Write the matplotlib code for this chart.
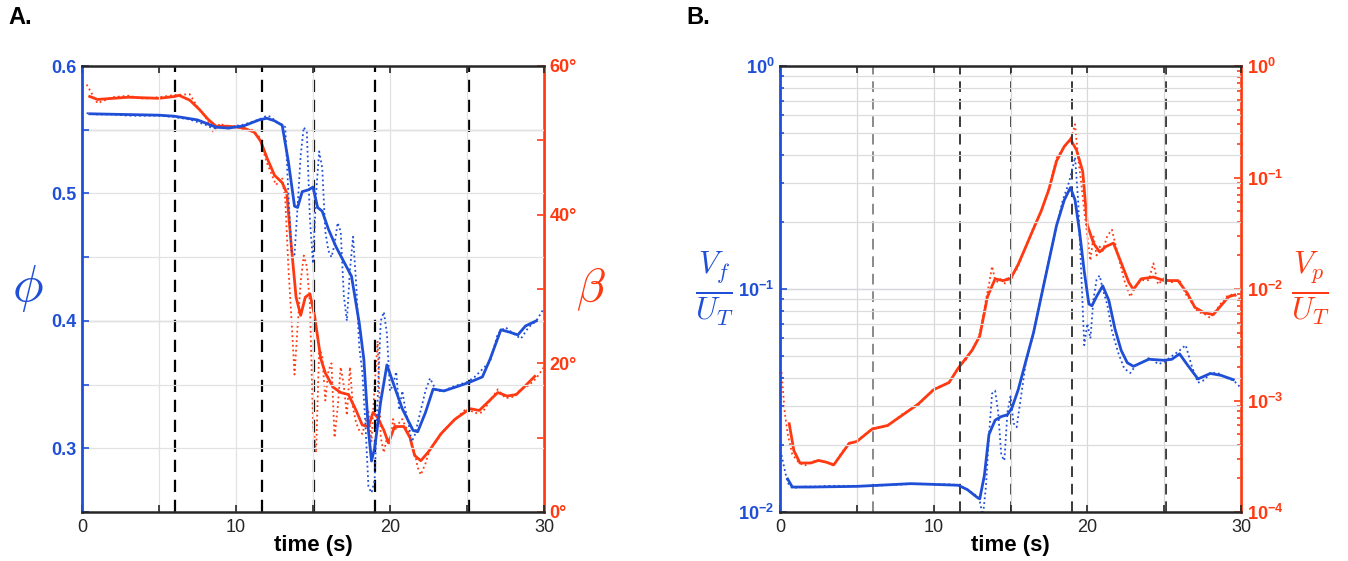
import matplotlib
matplotlib.use("Agg")
import matplotlib.pyplot as plt
import numpy as np

plt.rcParams['font.family'] = ['Liberation Sans', 'DejaVu Sans']
plt.rcParams['mathtext.fontset'] = 'custom'
plt.rcParams['mathtext.rm'] = 'Liberation Sans:bold'
plt.rcParams['mathtext.it'] = 'Liberation Sans:italic'
plt.rcParams['mathtext.bf'] = 'Liberation Sans:bold'

BLUE = '#1f4fd6'
RED = '#ff3a12'

# event times (dashed lines)
events = [6.05, 11.7, 15.05, 19.0, 25.1]

# ---------------- panel A: smoothed curves ----------------
t_phi = [0.5, 5, 6, 7.5, 8.7, 9.5, 10.5, 11.5, 12, 12.5, 13, 13.4, 13.8, 14.0, 14.3, 14.7,
         15, 15.3, 15.6, 16.0, 16.5, 17, 17.5, 18, 18.3, 18.6, 18.8, 19.0, 19.4, 19.8,
         20.3, 20.8, 21.5, 21.8, 22.3, 22.8, 23.5, 24.5, 25.2, 26, 26.5, 27.2, 27.8, 28.3,
         28.8, 29.5]
phi = [0.5625, 0.5614, 0.5606, 0.5577, 0.552, 0.5513, 0.553, 0.5577, 0.559, 0.557, 0.5535,
       0.525, 0.49, 0.489, 0.5014, 0.5028, 0.505, 0.489, 0.486, 0.472, 0.458, 0.4465, 0.435,
       0.3986, 0.370, 0.314, 0.290, 0.300, 0.337, 0.3654, 0.348, 0.331, 0.314, 0.313, 0.328,
       0.3465, 0.345, 0.349, 0.352, 0.356, 0.370, 0.393, 0.391, 0.389, 0.396, 0.400]

t_beta = [0.5, 1, 3, 5, 6, 6.3, 7, 7.6, 8.2, 8.7, 9.5, 10.5, 11.2, 11.6, 12.0, 12.5, 13,
          13.3, 13.6, 13.9, 14.2, 14.5, 14.8, 15.1, 15.5, 15.8, 16.3, 16.8, 17.3, 17.8, 18.2,
          18.6, 18.9, 19.2, 19.6, 19.9, 20.3, 20.9, 21.3, 21.6, 22.0, 22.5, 23.3, 24.2, 25.2,
          25.8, 26.4, 27, 27.6, 28.2, 28.8, 29.4]
beta = [55.9, 55.5, 55.8, 55.65, 55.9, 56.05, 55.4, 54.2, 52.8, 51.9, 51.9, 51.65, 51.07,
        49.9, 47.7, 45.3, 44.3, 42.9, 35.6, 28.9, 26.45, 28.9, 29.35, 26.45, 20.66, 18.7,
        16.8, 16.07, 15.8, 13.66, 11.7, 11.5, 13.4, 12.7, 11.0, 9.3, 11.5, 11.5, 10.0, 7.6,
        6.9, 8.1, 10.5, 12.45, 13.9, 13.66, 14.87, 16.07, 15.6, 15.8, 17.0, 18.25]

# ---------------- panel A: raw (dotted) ----------------
t_raw_a = [0.3, 1, 2, 3, 4, 5, 6, 7, 7.5, 8, 8.5, 9, 9.5, 10, 10.5, 11, 11.5, 12, 12.3, 12.6,
           13.0, 13.2, 13.4, 13.6, 13.8, 14.0, 14.2, 14.4, 14.6, 14.8, 15.0, 15.2, 15.4, 15.6,
           15.8, 16.0, 16.2, 16.4, 16.6, 16.8, 17.0, 17.2, 17.4, 17.6, 17.8, 18.0, 18.2, 18.4,
           18.6, 18.8, 19.0, 19.2, 19.4, 19.6, 19.8, 20.0, 20.2, 20.4, 20.6, 20.8, 21.0, 21.2,
           21.4, 21.6, 21.8, 22.0, 22.3, 22.6, 23.0, 23.5, 24, 24.5, 25, 25.5, 26, 26.5, 27,
           27.5, 28, 28.5, 29, 29.5, 30]
phi_raw = [0.563, 0.562, 0.562, 0.561, 0.561, 0.561, 0.560, 0.558, 0.556, 0.554, 0.551, 0.552,
           0.551, 0.553, 0.554, 0.556, 0.558, 0.561, 0.560, 0.556, 0.554, 0.552, 0.50, 0.455,
           0.452, 0.49, 0.53, 0.552, 0.548, 0.48, 0.445, 0.50, 0.533, 0.52, 0.47, 0.455, 0.45,
           0.46, 0.477, 0.47, 0.42, 0.40, 0.44, 0.466, 0.43, 0.38, 0.36, 0.32, 0.27, 0.265,
           0.275, 0.34, 0.40, 0.407, 0.39, 0.345, 0.35, 0.36, 0.33, 0.345, 0.33, 0.32, 0.305,
           0.31, 0.32, 0.33, 0.345, 0.355, 0.345, 0.345, 0.348, 0.35, 0.352, 0.356, 0.362,
           0.368, 0.39, 0.395, 0.39, 0.386, 0.395, 0.40, 0.41]
beta_raw = [57.5, 55.0, 55.8, 56.0, 55.6, 55.8, 56.1, 56.2, 54.5, 53.2, 51.2, 52.3, 51.5, 52.0,
            51.4, 51.5, 50.5, 47.0, 45.5, 44.0, 45.0, 42.0, 33, 26, 18.5, 25, 31, 34.5, 33, 28,
            12, 8, 22, 21, 15, 19, 20, 10, 14, 19.5, 17, 13, 19.5, 14, 12, 11, 10.5, 12, 13.5,
            9.5, 17, 23, 10, 8, 10, 9, 12.5, 11, 12, 12.5, 11.5, 11, 9, 8, 6, 5, 6.5, 8.5, 9.5,
            11, 12, 13, 14, 13.3, 13.4, 15, 16.5, 15.3, 15.5, 16.5, 17, 18, 19.5]

# ---------------- panel B: smoothed curves ----------------
t_vf = [0.5, 0.8, 2, 5, 8.5, 10, 11.6, 12.2, 12.8, 13.0, 13.3, 13.6, 14.0, 14.4, 14.8, 15.1,
        15.5, 16, 16.5, 17, 17.5, 18, 18.5, 18.9, 19.2, 19.5, 19.8, 20.1, 20.3, 20.6, 21,
        21.4, 21.8, 22.2, 22.6, 23.0, 24, 25, 25.5, 26, 26.5, 27.2, 28, 28.7, 29.5]
vf = [0.01406, 0.01294, 0.01294, 0.01303, 0.01340, 0.01330, 0.01318, 0.01259, 0.01167,
      0.01146, 0.01459, 0.02228, 0.02582, 0.02679, 0.02729, 0.02938, 0.03532, 0.04753,
      0.06383, 0.09247, 0.1337, 0.1932, 0.2506, 0.2851, 0.2506, 0.1795, 0.1197, 0.0857,
      0.0841, 0.0925, 0.1033, 0.0889, 0.0662, 0.0531, 0.0467, 0.0450, 0.0484, 0.0479,
      0.0484, 0.0512, 0.0458, 0.0395, 0.0418, 0.0410, 0.0392]

t_vp = [0.6, 0.9, 1.3, 2, 2.5, 3, 3.5, 4.0, 4.5, 5, 6, 7, 8, 9, 10, 11, 11.6, 12.5, 13, 13.5,
        14, 14.5, 15, 15.5, 16, 16.5, 17, 17.5, 18, 18.5, 18.9, 19.3, 19.7, 20.0, 20.4, 20.8,
        21.2, 21.7, 22.2, 22.7, 23.0, 23.5, 24.3, 25, 25.9, 26.5, 27, 27.6, 28.2, 28.7, 29.2,
        29.6]
vp = [6.19e-4, 3.56e-4, 2.75e-4, 2.75e-4, 2.90e-4, 2.80e-4, 2.65e-4, 3.31e-4, 4.13e-4,
      4.29e-4, 5.55e-4, 5.97e-4, 7.45e-4, 9.31e-4, 1.25e-3, 1.45e-3, 1.95e-3, 2.82e-3,
      3.78e-3, 8.53e-3, 1.233e-2, 1.19e-2, 1.233e-2, 1.66e-2, 2.40e-2, 3.48e-2, 5.02e-2,
      7.82e-2, 0.141, 0.190, 0.220, 0.176, 0.113, 0.0374, 0.0258, 0.0215, 0.0240, 0.0258,
      0.0172, 0.01146, 0.00989, 0.01233, 0.0128, 0.0119, 0.0119, 0.00918, 0.00684, 0.00612,
      0.00590, 0.00710, 0.00853, 0.00885]

# ---------------- panel B: raw (dotted) ----------------
t_raw_b = [0.1, 0.3, 0.5, 0.8, 1.2, 1.6, 2, 2.5, 3, 3.5, 4, 4.5, 5, 6, 7, 8, 9, 10, 11, 11.6,
           12.2, 12.8, 13.0, 13.2, 13.4, 13.6, 13.8, 14.0, 14.2, 14.4, 14.6, 14.8, 15.0, 15.2,
           15.4, 15.6, 16, 16.5, 17, 17.5, 18, 18.4, 18.8, 19.0, 19.2, 19.4, 19.6, 19.8, 20.0,
           20.2, 20.4, 20.6, 20.8, 21.0, 21.3, 21.6, 22.0, 22.4, 22.8, 23.2, 23.6, 24.0, 24.3,
           24.6, 25, 25.5, 26, 26.4, 26.8, 27.2, 27.6, 28, 28.5, 29, 29.5, 30]
vf_raw = [0.018, 0.0155, 0.0135, 0.0128, 0.0129, 0.0130, 0.0130, 0.0130, 0.0131, 0.0131,
          0.0131, 0.0131, 0.0131, 0.0131, 0.0132, 0.0133, 0.0134, 0.0133, 0.0133, 0.0132,
          0.0126, 0.0118, 0.0112, 0.0095, 0.013, 0.022, 0.034, 0.035, 0.028, 0.018, 0.017,
          0.028, 0.033, 0.025, 0.024, 0.030, 0.047, 0.063, 0.093, 0.135, 0.19, 0.25, 0.30,
          0.34, 0.39, 0.25, 0.12, 0.056, 0.070, 0.06, 0.09, 0.110, 0.115, 0.10, 0.085, 0.065,
          0.052, 0.044, 0.042, 0.046, 0.047, 0.049, 0.048, 0.046, 0.047, 0.050, 0.053, 0.056,
          0.045, 0.038, 0.039, 0.042, 0.042, 0.040, 0.039, 0.036]
vp_raw = [1.8e-3, 8e-4, 5e-4, 3.3e-4, 2.8e-4, 2.6e-4, 2.8e-4, 2.9e-4, 2.8e-4, 2.6e-4, 3.4e-4,
          4.1e-4, 4.3e-4, 5.6e-4, 5.9e-4, 7.6e-4, 9.1e-4, 1.27e-3, 1.44e-3, 1.97e-3, 2.4e-3,
          3.4e-3, 4.0e-3, 5.5e-3, 8.0e-3, 1.1e-2, 1.6e-2, 1.2e-2, 1.15e-2, 1.25e-2, 1.1e-2,
          1.3e-2, 1.15e-2, 1.4e-2, 1.5e-2, 1.75e-2, 2.4e-2, 3.6e-2, 4.9e-2, 8.0e-2, 0.15,
          0.18, 0.21, 0.24, 0.30, 0.15, 0.09, 0.05, 0.03, 0.018, 0.03, 0.02, 0.024, 0.022,
          0.03, 0.034, 0.02, 0.012, 0.0085, 0.011, 0.012, 0.012, 0.017, 0.011, 0.0125, 0.0115,
          0.012, 0.009, 0.0075, 0.0062, 0.0060, 0.0055, 0.0068, 0.0085, 0.0090, 0.0080]


def style_axes(ax, ax2):
    for s in ['top', 'bottom']:
        ax.spines[s].set_color('#262626')
        ax.spines[s].set_linewidth(1.8)
    ax.spines['left'].set_color(BLUE)
    ax.spines['left'].set_linewidth(2)
    ax.spines['right'].set_visible(False)
    for s in ['left', 'top', 'bottom']:
        ax2.spines[s].set_visible(False)
    ax2.spines['right'].set_color(RED)
    ax2.spines['right'].set_linewidth(2)
    ax.tick_params(axis='x', which='both', direction='in', top=True, length=5,
                   width=1.2, colors='#262626', labelsize=13, pad=5)
    ax.tick_params(axis='y', which='both', direction='in', colors=BLUE, labelsize=13,
                   width=1.2, pad=4)
    ax.tick_params(axis='y', which='major', length=5)
    ax.tick_params(axis='y', which='minor', length=3)
    ax2.tick_params(axis='y', which='both', direction='in', colors=RED, labelsize=13,
                    width=1.2, pad=4)
    ax2.tick_params(axis='y', which='major', length=5)
    ax2.tick_params(axis='y', which='minor', length=3)
    for lab in ax.get_yticklabels() + ax2.get_yticklabels():
        lab.set_fontweight('bold')
    ax.set_xlim(0, 30)
    ax.set_xticks(np.arange(0, 31, 5))
    ax.set_xticklabels(['0', '', '10', '', '20', '', '30'])
    ax.set_xlabel('time (s)', fontsize=16, fontweight='bold', va='center')
    ax.xaxis.set_label_coords(0.5, -0.076)


fig = plt.figure(figsize=(13.48, 5.61), dpi=100)

# ---------------- A ----------------
axA = fig.add_axes([82 / 1348, 49 / 561, 462 / 1348, 446 / 561])
axA2 = axA.twinx()
axA.set_zorder(axA2.get_zorder() + 1)
axA.patch.set_visible(False)

axA.grid(True, color='#e2e2e2', lw=0.9)
# two slightly darker horizontal rules as in the reference
for yv in [0.55, 0.4]:
    axA.axhline(yv, color='#cfcfcf', lw=1.0, zorder=0.5)
for t in events:
    axA.axvline(t, color='black', lw=1.6, ls=(0, (5.5, 3.5)), zorder=1)
axA.plot(t_raw_a, phi_raw, ls=':', color=BLUE, lw=1.3, zorder=2)
axA.plot(t_phi, phi, color=BLUE, lw=2.0, zorder=3, solid_joinstyle='round')
axA2.plot(t_raw_a, beta_raw, ls=':', color=RED, lw=1.3)
axA2.plot(t_beta, beta, color=RED, lw=2.0, solid_joinstyle='round')

axA.set_ylim(0.25, 0.6)
axA.set_yticks(np.arange(0.25, 0.601, 0.05))
axA.set_yticklabels(['', '0.3', '', '0.4', '', '0.5', '', '0.6'])
axA2.set_ylim(0, 60)
axA2.set_yticks(np.arange(0, 61, 10))
axA2.set_yticklabels(['0°', '', '20°', '', '40°', '', '60°'])
style_axes(axA, axA2)
axA.set_ylabel(r'$\phi$', fontsize=37, color=BLUE, rotation=0, ha='center', va='center',
               math_fontfamily='cm')
axA.yaxis.set_label_coords(-0.117, 0.5)
axA2.set_ylabel(r'$\beta$', fontsize=34, color=RED, rotation=0, ha='center', va='center',
                math_fontfamily='cm')
axA2.yaxis.set_label_coords(1.102, 0.5)

# ---------------- B ----------------
axB = fig.add_axes([780 / 1348, 49 / 561, 461 / 1348, 446 / 561])
axB2 = axB.twinx()
axB.set_zorder(axB2.get_zorder() + 1)
axB.patch.set_visible(False)

axB.set_yscale('log')
axB2.set_yscale('log')
axB.set_ylim(1e-2, 1)
axB2.set_ylim(1e-4, 1)
axB.grid(True, which='major', color='#d8d8d8', lw=0.9)
axB.grid(True, which='minor', axis='y', color='#dcdcdc', lw=0.9)
axB.axhline(0.1, color='#dbe4f5', lw=1.0, zorder=0.5)
dash_cols = ['#8a8a8a', '#3a3a3a', '#3a3a3a', '#3a3a3a', '#3a3a3a']
for t, c in zip(events, dash_cols):
    axB.axvline(t, color=c, lw=1.4, ls=(0, (5.5, 3.5)), zorder=1)
axB.plot(t_raw_b, vf_raw, ls=':', color=BLUE, lw=1.3, zorder=2)
axB.plot(t_vf, vf, color=BLUE, lw=2.0, zorder=3, solid_joinstyle='round')
axB2.plot(t_raw_b, vp_raw, ls=':', color=RED, lw=1.3)
axB2.plot(t_vp, vp, color=RED, lw=2.0, solid_joinstyle='round')

axB.set_yticks([1e-2, 1e-1, 1])
axB.set_yticklabels([r'$10^{-2}$', r'$10^{-1}$', r'$10^{0}$'])
axB2.set_yticks([1e-4, 1e-3, 1e-2, 1e-1, 1])
axB2.set_yticklabels([r'$10^{-4}$', r'$10^{-3}$', r'$10^{-2}$', r'$10^{-1}$', r'$10^{0}$'])
style_axes(axB, axB2)
axB.set_ylabel(r'$\frac{V_f}{U_T}$', fontsize=32, color=BLUE, rotation=0, ha='center',
               va='center', math_fontfamily='cm')
axB.yaxis.set_label_coords(-0.143, 0.5)
axB2.set_ylabel(r'$\frac{V_p}{U_T}$', fontsize=32, color=RED, rotation=0, ha='center',
                va='center', math_fontfamily='cm')
axB2.yaxis.set_label_coords(1.150, 0.5)

fig.text(8 / 1348, 1 - 18 / 561, 'A.', fontsize=17, fontweight='bold', va='center')
fig.text(686 / 1348, 1 - 18 / 561, 'B.', fontsize=17, fontweight='bold', va='center')

fig.savefig('out.png', dpi=100)
